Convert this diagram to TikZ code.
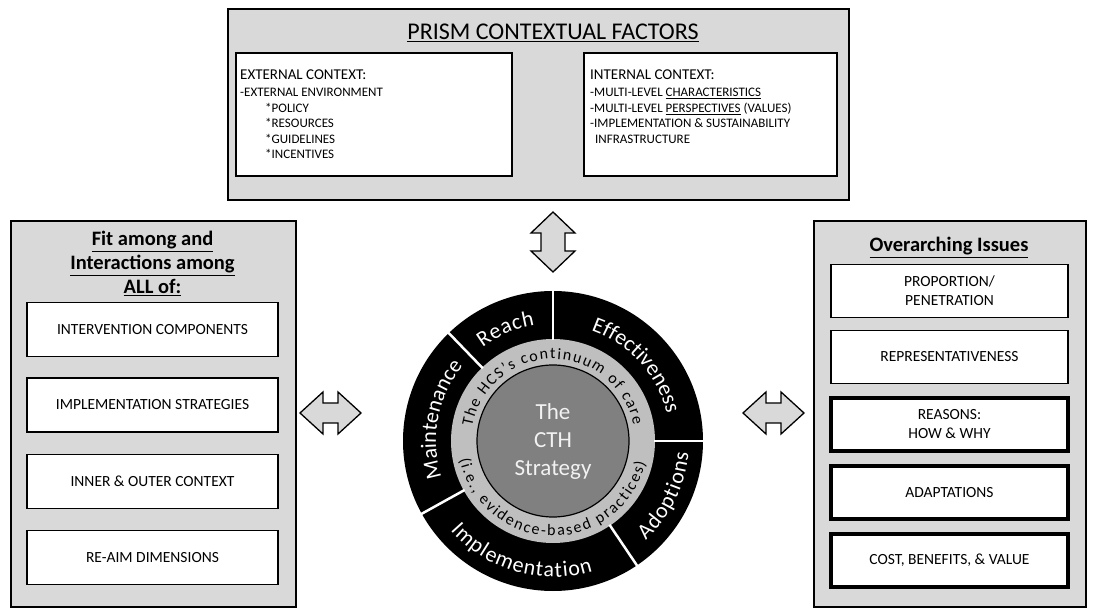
\documentclass[tikz,border=0pt]{standalone}
\usepackage{fontspec}
\setmainfont{Carlito}
\usetikzlibrary{decorations.text}
\definecolor{panelgray}{HTML}{D9D9D9}
\definecolor{ringgray}{HTML}{BFBFBF}
\definecolor{coregray}{HTML}{808080}
\definecolor{coretext}{HTML}{F2F2F2}
\begin{document}
\begin{tikzpicture}[x=1pt,y=1pt,
 panel/.style={draw=black, line width=2pt, fill=panelgray, inner sep=0pt},
 inbox/.style={draw=black, line width=1.6pt, fill=white, inner sep=0pt},
 itembox/.style={inbox, minimum width=251pt, minimum height=54pt, align=center, font=\fontsize{15.5}{18}\selectfont},
 issuebox/.style={inbox, minimum width=237pt, minimum height=53pt, align=center, font=\fontsize{15.5}{19}\selectfont},
 thickissue/.style={issuebox, line width=3.5pt},
 ctxhead/.style={anchor=base west, inner sep=0pt, font=\fontsize{15}{15}\selectfont},
 ctxline/.style={anchor=base west, inner sep=0pt, font=\fontsize{13}{13}\selectfont},
 paneltitle/.style={anchor=base, inner sep=0pt, font=\bfseries\fontsize{20.5}{20.5}\selectfont},
 bigarrow/.style={draw=black, line width=1.3pt, fill=panelgray, line join=miter},
 divider/.style={draw=white, line width=2.5pt},
]
\useasboundingbox (0,0) rectangle (1095,608);

% ---------- top panel ----------
\node[panel, anchor=north west, minimum width=621pt, minimum height=191pt] (prism) at (227,600) {};
\node[anchor=base, inner sep=0pt, font=\fontsize{24}{24}\selectfont] (prismtitle) at (553,568) {\underline{PRISM CONTEXTUAL FACTORS}};
\node[inbox, anchor=north west, minimum width=276pt, minimum height=123pt] (ext) at (235,556) {};
\node[inbox, anchor=north west, minimum width=253pt, minimum height=123pt] (int) at (583,556) {};

\node[ctxhead] (exth) at (240,528.5) {EXTERNAL CONTEXT:};
\node[ctxline] (ext1) at (240,511) {-EXTERNAL ENVIRONMENT};
\node[ctxline] (ext2) at (265,495.5) {*POLICY};
\node[ctxline] (ext3) at (265,480) {*RESOURCES};
\node[ctxline] (ext4) at (265,464.5) {*GUIDELINES};
\node[ctxline] (ext5) at (265,449) {*INCENTIVES};

\node[ctxhead] (inth) at (590,528.5) {INTERNAL CONTEXT:};
\node[ctxline] (int1) at (590,511) {-MULTI-LEVEL \underline{CHARACTERISTICS}};
\node[ctxline] (int2) at (590,495.5) {-MULTI-LEVEL \underline{PERSPECTIVES} (VALUES)};
\node[ctxline] (int3) at (590,480) {-IMPLEMENTATION \& SUSTAINABILITY};
\node[ctxline] (int4) at (595,464.5) {INFRASTRUCTURE};

% ---------- left panel ----------
\node[panel, anchor=north west, minimum width=285pt, minimum height=386pt] (fitpanel) at (10,388) {};
\node[paneltitle] (fitt1) at (152.5,362) {\underline{Fit among and}};
\node[paneltitle] (fitt2) at (152.5,338) {\underline{Interactions among}};
\node[paneltitle] (fitt3) at (152.5,314) {\underline{ALL of:}};
\node[itembox] (comp) at (152.5,278.5) {INTERVENTION COMPONENTS};
\node[itembox] (strat) at (152.5,203) {IMPLEMENTATION STRATEGIES};
\node[itembox] (ctx) at (152.5,126.5) {INNER \& OUTER CONTEXT};
\node[itembox] (reaim) at (152.5,50.5) {RE-AIM DIMENSIONS};

% ---------- right panel ----------
\node[panel, anchor=north west, minimum width=272pt, minimum height=386pt] (issuepanel) at (813,388) {};
\node[paneltitle] (issuet) at (949,356) {\underline{Overarching Issues}};
\node[issuebox] (prop) at (949.5,317) {PROPORTION/\\PENETRATION};
\node[issuebox] (repr) at (949.5,251) {REPRESENTATIVENESS};
\node[thickissue] (reas) at (949.5,183.5) {REASONS:\\HOW \& WHY};
\node[thickissue] (adap) at (949.5,115.5) {ADAPTATIONS};
\node[thickissue] (cost) at (949.5,47.5) {COST, BENEFITS, \& VALUE};

% ---------- arrows ----------
\draw[bigarrow, shift={(330.5,195)}] (-30.5,0) -- (-7.5,21) -- (-7.5,10) -- (7.5,10) -- (7.5,21) -- (30.5,0) -- (7.5,-21) -- (7.5,-10) -- (-7.5,-10) -- (-7.5,-21) -- cycle;
\draw[bigarrow, shift={(773.5,195)}] (-30.5,0) -- (-7.5,21) -- (-7.5,10) -- (7.5,10) -- (7.5,21) -- (30.5,0) -- (7.5,-21) -- (7.5,-10) -- (-7.5,-10) -- (-7.5,-21) -- cycle;
\draw[bigarrow, shift={(553,366)}] (0,30) -- (22,9) -- (12,9) -- (12,-9) -- (22,-9) -- (0,-30) -- (-22,-9) -- (-12,-9) -- (-12,9) -- (-22,9) -- cycle;

% ---------- circle ----------
\coordinate (c) at (553,167);
\fill[black] (c) circle (150);
\fill[ringgray] (c) circle (102);
\node[circle, draw=black, line width=1.2pt, fill=coregray, minimum size=152pt, inner sep=0pt, align=center, text=coretext, font=\fontsize{23}{28}\selectfont] (cth) at (c) {The\\CTH\\Strategy};

\foreach \a in {90,134,0,-56,209}
  \draw[divider] ([shift={(\a:101)}]c) -- ([shift={(\a:151)}]c);

% outer ring labels
\path[decorate, decoration={text along path, text align=fit to path, text={|\color{white}\fontsize{22}{22}\selectfont|Reach}}]
  ([shift={(127:117)}]c) arc[start angle=127, end angle=99, radius=117];
\path[decorate, decoration={text along path, text align=fit to path, text={|\color{white}\fontsize{22}{22}\selectfont|Effectiveness}}]
  ([shift={(71:117)}]c) arc[start angle=71, end angle=14, radius=117];
\path[decorate, decoration={text along path, text align=fit to path, text={|\color{white}\fontsize{22}{22}\selectfont|Maintenance}}]
  ([shift={(198:117)}]c) arc[start angle=198, end angle=141, radius=117];
\path[decorate, decoration={text along path, text align=fit to path, text={|\color{white}\fontsize{22}{22}\selectfont|Adoptions}}]
  ([shift={(-47:136)}]c) arc[start angle=-47, end angle=-5, radius=136];
\path[decorate, decoration={text along path, text align=fit to path, text={|\color{white}\fontsize{22}{22}\selectfont|Implementation}}]
  ([shift={(221:136)}]c) arc[start angle=221, end angle=287, radius=136];

% inner ring labels
\path[decorate, decoration={text along path, text align=fit to path, text={|\fontsize{16}{16}\selectfont|The HCS's continuum of care}}]
  ([shift={(170:82)}]c) arc[start angle=170, end angle=11, radius=82];
\path[decorate, decoration={text along path, text align=fit to path, text={|\fontsize{16}{16}\selectfont|(i.e., evidence-based practices)}}]
  ([shift={(191:95)}]c) arc[start angle=191, end angle=347, radius=95];
\end{tikzpicture}
\end{document}
